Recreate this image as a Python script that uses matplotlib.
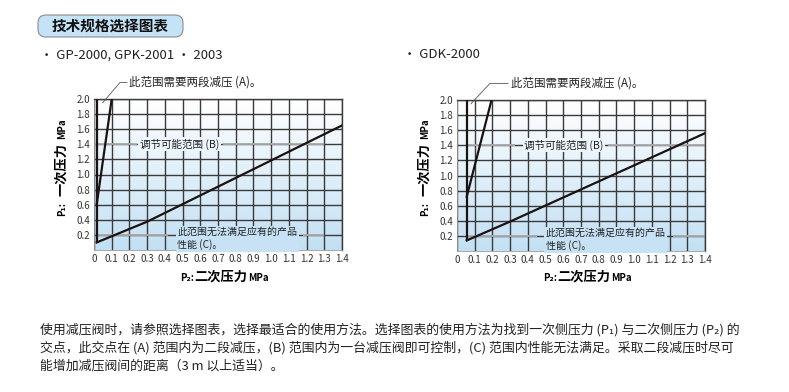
import numpy as np
import matplotlib
matplotlib.use("Agg")
import matplotlib.pyplot as plt
from matplotlib.colors import LinearSegmentedColormap
from matplotlib.patches import FancyBboxPatch

plt.rcParams['font.family'] = ['Noto Sans CJK SC', 'DejaVu Sans']

# data
x_ticks = [0, 0.1, 0.2, 0.3, 0.4, 0.5, 0.6, 0.7, 0.8, 0.9, 1.0, 1.1, 1.2, 1.3, 1.4]
x_tick_labels = ['0', '0.1', '0.2', '0.3', '0.4', '0.5', '0.6', '0.7', '0.8', '0.9', '1.0', '1.1', '1.2', '1.3', '1.4']
y_ticks = [0.2, 0.4, 0.6, 0.8, 1.0, 1.2, 1.4, 1.6, 1.8, 2.0]
y_tick_labels = ['0.2', '0.4', '0.6', '0.8', '1.0', '1.2', '1.4', '1.6', '1.8', '2.0']

# GP-2000, GPK-2001 / 2003
gp_wall_x = [0.015, 0.015]
gp_wall_y = [0.1, 2.0]
gp_a_x = [0.015, 0.1]
gp_a_y = [0.6, 2.0]
gp_c_x = [0.015, 0.3, 1.4]
gp_c_y = [0.1, 0.375, 1.65]

# GDK-2000
gdk_wall_x = [0.055, 0.055]
gdk_wall_y = [0.14, 2.0]
gdk_a_x = [0.055, 0.195]
gdk_a_y = [0.72, 2.0]
gdk_c_x = [0.055, 0.3, 1.4]
gdk_c_y = [0.14, 0.39, 1.56]

W, H = 789, 392
fig = plt.figure(figsize=(W / 100, H / 100), dpi=100)

bg_cmap = LinearSegmentedColormap.from_list('bg', ['#ffffff', '#c2e0f4'])


def px(x, y):
    return x / W, 1 - y / H


def make_axes(left, top, right, bottom):
    ax = fig.add_axes([left / W, 1 - bottom / H, (right - left) / W, (bottom - top) / H])
    ax.imshow(np.linspace(0, 1, 256).reshape(-1, 1), extent=[0, 1.4, 0, 2.0],
              aspect='auto', cmap=bg_cmap, zorder=0)
    ax.set_xlim(0, 1.4)
    ax.set_ylim(0, 2.0)
    ax.set_xticks(x_ticks)
    ax.set_xticklabels(x_tick_labels)
    ax.set_yticks(y_ticks)
    ax.set_yticklabels(y_tick_labels)
    ax.tick_params(length=0, labelsize=7, colors='#333333', pad=3)
    ax.set_axisbelow(True)
    ax.grid(True, color='#3a3a3a', linewidth=1.0)
    for side in ['top', 'right']:
        ax.spines[side].set_color('#3a3a3a')
        ax.spines[side].set_linewidth(1.0)
    for side in ['left', 'bottom']:
        ax.spines[side].set_color('#9a9a9a')
        ax.spines[side].set_linewidth(0.6)
    return ax


def label(ax, x, y, s, size=7):
    c = bg_cmap(1 - y / 2.0)
    ax.text(x, y, s, fontsize=size, color='#222222', va='center', ha='left', zorder=4,
            linespacing=1.25,
            bbox=dict(boxstyle='square,pad=0.15', fc=c, ec='none'))


def gray_line(ax, x0, x1, y):
    ax.plot([x0, x1], [y, y], color='#ababab', linewidth=1.3, zorder=1.5,
            solid_capstyle='butt')


def leader(ax, pts):
    xs = [p[0] for p in pts]
    ys = [p[1] for p in pts]
    ax.plot(xs, ys, color='#555555', linewidth=0.6, clip_on=False, zorder=5)


def draw_chart(ax, wall_x, wall_y, a_x, a_y, c_x, c_y, lead, a_text_x,
               b_text_x, b_lines, c_text_x, c_lines):
    for x0, x1 in b_lines:
        gray_line(ax, x0, x1, 1.4)
    for x0, x1 in c_lines:
        gray_line(ax, x0, x1, 0.2)
    for xs, ys in [(wall_x, wall_y), (a_x, a_y), (c_x, c_y)]:
        ax.plot(xs, ys, color='#1a1311', linewidth=1.6, zorder=3,
                solid_joinstyle='miter')
    leader(ax, lead)
    ax.text(a_text_x, lead[-1][1], '此范围需要两段减压 (A)。', fontsize=8.3, color='#222222',
            va='center', ha='left', clip_on=False)
    label(ax, b_text_x, 1.4, '调节可能范围 (B)', size=7.6)
    label(ax, c_text_x, 0.15, '此范围无法满足应有的产品\n性能 (C)。', size=7.2)


ax1 = make_axes(94, 99, 342, 250)
draw_chart(ax1, gp_wall_x, gp_wall_y, gp_a_x, gp_a_y, gp_c_x, gp_c_y,
           [(0.049, 1.95), (0.147, 2.22), (0.186, 2.22)], 0.2,
           0.26, [(0, 0.24), (0.73, 1.3)],
           0.47, [(0.015, 0.42), (1.18, 1.3)])

ax2 = make_axes(457, 100, 705, 251)
draw_chart(ax2, gdk_wall_x, gdk_wall_y, gdk_a_x, gdk_a_y, gdk_c_x, gdk_c_y,
           [(0.079, 1.95), (0.186, 2.22), (0.288, 2.22)], 0.305,
           0.38, [(0.055, 0.33), (0.85, 1.4)],
           0.5, [(0.055, 0.45), (1.22, 1.4)])

# axis titles, built from pieces so the units can be smaller
for dx in [0, 363]:
    fig.text(*px(221 + dx, 277), '二次压力', fontsize=9.5, fontweight='bold',
             ha='center', va='center')
    fig.text(*px(194 + dx, 278), 'P₂:', fontsize=7, fontweight='bold',
             ha='right', va='center')
    fig.text(*px(248 + dx, 278), 'MPa', fontsize=7, fontweight='bold',
             ha='left', va='center')
    fig.text(*px(61 + dx, 170), '一次压力', fontsize=9.5, fontweight='bold',
             ha='center', va='center', rotation=90)
    fig.text(*px(62 + dx, 202), 'P₁:', fontsize=7, fontweight='bold',
             ha='center', va='top', rotation=90)
    fig.text(*px(62 + dx, 139), 'MPa', fontsize=7, fontweight='bold',
             ha='center', va='bottom', rotation=90)

# heading box
box = FancyBboxPatch((0.38, (H - 37) / 100), 1.45, 0.22,
                     boxstyle='round,pad=0,rounding_size=0.08',
                     transform=fig.dpi_scale_trans, fc='#c5e3f6', ec='#8c8c8c', lw=0.8)
fig.add_artist(box)
fig.text(*px(110.5, 26), '技术规格选择图表', fontsize=10.5, fontweight='bold',
         ha='center', va='center', color='#111111')

fig.text(*px(40, 55), '· GP-2000, GPK-2001 · 2003', fontsize=9.5, ha='left', va='center',
         color='#222222')
fig.text(*px(403, 55), '· GDK-2000', fontsize=9.5, ha='left', va='center', color='#222222')

para = [
    '使用减压阀时，请参照选择图表，选择最适合的使用方法。选择图表的使用方法为找到一次侧压力 (P₁) 与二次侧压力 (P₂) 的',
    '交点，此交点在 (A) 范围内为二段减压，(B) 范围内为一台减压阀即可控制，(C) 范围内性能无法满足。采取二段减压时尽可',
    '能增加减压阀间的距离（3 m 以上适当）。',
]
for i, line in enumerate(para):
    fig.text(*px(40, 330 + 18 * i), line, fontsize=9.3, ha='left', va='center',
             color='#222222')

fig.savefig('out.png', dpi=100)
